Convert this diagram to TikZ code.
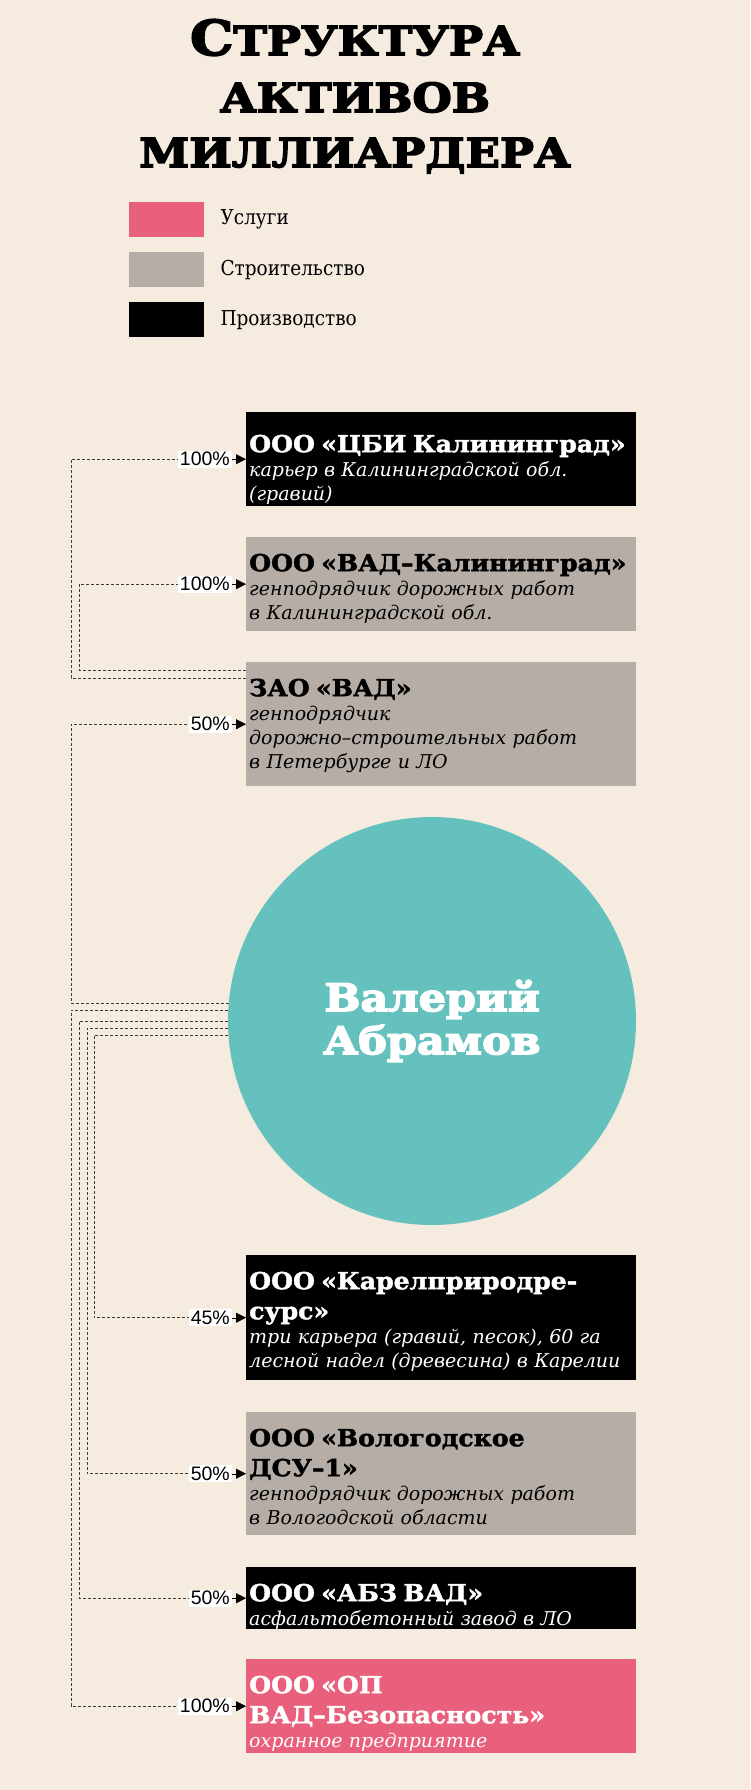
\documentclass[tikz,border=0pt]{standalone}
\usepackage{fontspec}
\setmainfont{DejaVu Serif}
\newfontfamily\headfont[FakeStretch=1.13,FakeBold=4]{DejaVu Serif}
\newfontfamily\namefont[FakeStretch=1.07,FakeBold=1.8]{DejaVu Serif}
\newfontfamily\keyfont[FakeStretch=0.9]{DejaVu Serif}
\newfontfamily\pctfont{Liberation Sans}
\usetikzlibrary{positioning,calc,arrows.meta}

\definecolor{paper}{HTML}{F5EBDF}
\definecolor{usl}{HTML}{E8607C}
\definecolor{stroi}{HTML}{B5ADA6}
\definecolor{tealc}{HTML}{65C1BD}
\definecolor{linkgray}{HTML}{3C3C3C}

\newcommand{\firmname}[1]{{\namefont\upshape\bfseries\fontsize{23.5pt}{30pt}\selectfont #1}}

\begin{document}
\begin{tikzpicture}[x=1pt,y=-1pt]

    \tikzset{
      firm/.style={
        anchor=north west,
        text width=384pt,
        inner xsep=3pt,
        inner ysep=0pt,
        align=left,
        text height=34pt,
        font=\itshape\fontsize{19pt}{24pt}\selectfont,
      },
      prod/.style={firm, fill=black, text=white},
      build/.style={firm, fill=stroi, text=black},
      serv/.style={firm, fill=usl, text=white},
      pct/.style={
        fill=white,
        inner xsep=2pt,
        inner ysep=1.5pt,
        font=\pctfont\fontsize{19.5pt}{19.5pt}\selectfont,
      },
      link/.style={draw=linkgray, line width=0.8pt, dash pattern=on 3pt off 2pt},
      pctarrow/.style={-{Triangle[length=10pt,width=10pt]}, line width=0.4pt, black},
      swatch/.style={anchor=north west, minimum width=75pt, minimum height=35pt, inner sep=0pt},
      keytext/.style={anchor=west, inner sep=0pt, font=\keyfont\fontsize{20.5pt}{24pt}\selectfont},
      headline/.style={anchor=base, inner sep=0pt, font=\headfont\bfseries\fontsize{40pt}{44pt}\selectfont},
    }

	\fill[paper] (0,0) rectangle (750,1790);

	\node[headline] (t1) at (355,55) {{\fontsize{48pt}{48pt}\selectfont С}ТРУКТУРА};
	\node[headline] (t2) at (355,112) {АКТИВОВ};
	\node[headline] (t3) at (355,167) {МИЛЛИАРДЕРА};

	\node[swatch, fill=usl] (sw1) at (129,202) {};
	\node[swatch, fill=stroi] (sw2) at (129,252) {};
	\node[swatch, fill=black] (sw3) at (129,302) {};
	\node[keytext, right=16pt of sw1] (k1) {Услуги};
	\node[keytext, right=16pt of sw2] (k2) {Строительство};
	\node[keytext, right=16pt of sw3] (k3) {Производство};

	\node[prod, text height=40pt, text depth=54pt] (cbi) at (246,412) {\firmname{ООО «ЦБИ Калининград»}\\ карьер в Калининградской обл.\\ (гравий)};
	\node[build, text depth=60pt] (vadk) at (246,537) {\firmname{ООО «ВАД–Калининград»}\\ генподрядчик дорожных работ\\ в Калининградской обл.};
	\node[build, text depth=90pt] (zao) at (246,662) {\firmname{ЗАО «ВАД»}\\ генподрядчик\\ дорожно–строительных работ\\ в Петербурге и ЛО};

	\node[circle, fill=tealc, minimum size=408pt, inner sep=0pt, align=center, text=white, font=\headfont\bfseries\fontsize{38pt}{43pt}\selectfont] (boss) at (432,1021) {Валерий\\ Абрамов};

	\node[prod, text depth=91pt] (karel) at (246,1255) {\firmname{ООО «Карелприродре-}\\[6pt] \firmname{сурс»}\\ три карьера (гравий, песок), 60 га\\ лесной надел (древесина) в Карелии};
	\node[build, text depth=89pt] (volog) at (246,1412) {\firmname{ООО «Вологодское}\\[6pt] \firmname{ДСУ–1»}\\ генподрядчик дорожных работ\\ в Вологодской области};
	\node[prod, text depth=28pt] (abz) at (246,1567) {\firmname{ООО «АБЗ ВАД»}\\ асфальтобетонный завод в ЛО};
	\node[serv, text depth=60pt] (op) at (246,1659) {\firmname{ООО «ОП}\\[6pt] \firmname{ВАД–Безопасность»}\\ охранное предприятие};

	\node[pct, left=14pt of cbi] (pcbi) {100\%};
	\node[pct, left=14pt of vadk] (pvadk) {100\%};
	\node[pct, left=14pt of zao] (pzao) {50\%};
	\node[pct, left=14pt of karel] (pkarel) {45\%};
	\node[pct, left=14pt of volog] (pvolog) {50\%};
	\node[pct, left=14pt of abz] (pabz) {50\%};
	\node[pct, left=14pt of op] (pop) {100\%};

	\coordinate (r1) at (71,0);
	\coordinate (r2) at (79,0);
	\coordinate (r3) at (87,0);
	\coordinate (r4) at (94,0);

	\draw[link] ($(zao.north west)+(0,16)$) -| (r1 |- pcbi) -- (pcbi);
	\draw[link] ($(zao.north west)+(0,8)$) -| (r2 |- pvadk) -- (pvadk);
	\draw[link] (boss.175.5) -| (r1 |- pzao) -- (pzao);
	\draw[link] (boss.177.75) -| (r1 |- pop) -- (pop);
	\draw[link] (boss.180) -| (r2 |- pabz) -- (pabz);
	\draw[link] (boss.182) -| (r3 |- pvolog) -- (pvolog);
	\draw[link] (boss.184.5) -| (r4 |- pkarel) -- (pkarel);

	\draw[pctarrow] (pcbi) -- (cbi);
	\draw[pctarrow] (pvadk) -- (vadk);
	\draw[pctarrow] (pzao) -- (zao);
	\draw[pctarrow] (pkarel) -- (karel);
	\draw[pctarrow] (pvolog) -- (volog);
	\draw[pctarrow] (pabz) -- (abz);
	\draw[pctarrow] (pop) -- (op);

\end{tikzpicture}
\end{document}
